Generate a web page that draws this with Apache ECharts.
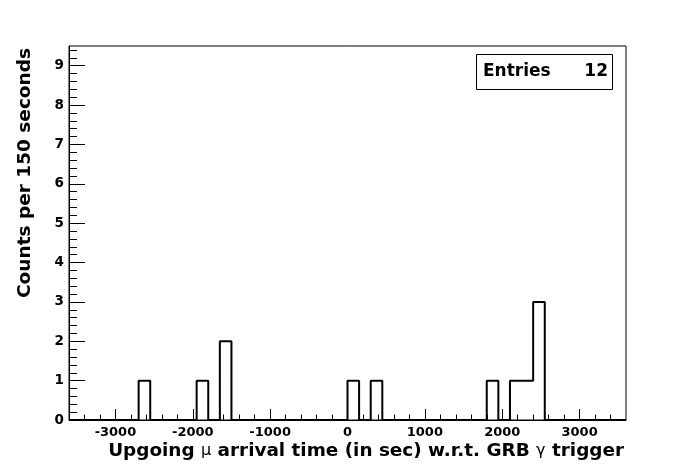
<!DOCTYPE html>
<html>
<head>
<meta charset="utf-8">
<script src="https://cdn.jsdelivr.net/npm/echarts@6/dist/echarts.min.js"></script>
<style>
html,body{margin:0;padding:0;background:#fff;}
#chart{width:696px;height:467px;}
</style>
</head>
<body>
<div id="chart"></div>
<script>
// Histogram: 48 bins of 150 s from -3600 to 3600
var xMin = -3600;
var xMax = 3600;
var binWidth = 150;
var counts = [
  0,0,0,0,0,0,1,0,0,0,0,1,0,2,0,0,0,0,0,0,0,0,0,0,
  1,0,1,0,0,0,0,0,0,0,0,0,1,0,1,1,3,0,0,0,0,0,0,0
];
var xMajorTicks = [-3000,-2000,-1000,0,1000,2000,3000];
var xMinorTicks = [-3400,-3200,-2800,-2600,-2400,-2200,-1800,-1600,-1400,-1200,-800,-600,-400,-200,200,400,600,800,1200,1400,1600,1800,2200,2400,2600,2800,3200,3400];
var yMajorTicks = [0,1,2,3,4,5,6,7,8,9];
var yMinorTicks = [0.2,0.4,0.6,0.8,1.2,1.4,1.6,1.8,2.2,2.4,2.6,2.8,3.2,3.4,3.6,3.8,4.2,4.4,4.6,4.8,5.2,5.4,5.6,5.8,6.2,6.4,6.6,6.8,7.2,7.4,7.6,7.8,8.2,8.4,8.6,8.8,9.2,9.4];
var yMax = 9.5;
var xTitleParts = ['Upgoing ', 'μ', ' arrival time (in sec) w.r.t. GRB ', 'γ', ' trigger'];
var yTitle = 'Counts per 150 seconds';
var statsLabel = 'Entries';

var entries = counts.reduce(function(a,b){return a+b;},0);
var stepData = [];
for (var i = 0; i < counts.length; i++) {
  var lo = xMin + i*binWidth;
  stepData.push([lo, counts[i]]);
  stepData.push([lo + binWidth, counts[i]]);
}

var FONT = 'DejaVu Sans';
var gridPos = {left:69, right:70, top:46, bottom:47};
function plain(v){ return String(v); }

var chart = echarts.init(document.getElementById('chart'), null, {renderer:'canvas'});
chart.setOption({
  animation:false,
  backgroundColor:'#fff',
  grid:[
    Object.assign({show:true, borderColor:'#000', borderWidth:1, backgroundColor:'transparent'}, gridPos),
    Object.assign({show:false}, gridPos)
  ],
  xAxis:[
    {type:'value', gridIndex:0, min:xMin, max:xMax,
     axisLine:{show:true, onZero:false, lineStyle:{color:'#000', width:1}},
     splitLine:{show:false},
     axisTick:{show:true, inside:true, length:11, customValues:xMajorTicks, lineStyle:{color:'#000', width:1}},
     axisLabel:{show:true, customValues:xMajorTicks, formatter:plain, color:'#000', fontFamily:FONT, fontWeight:'bold', fontSize:13, margin:6}
    },
    {type:'value', gridIndex:1, min:xMin, max:xMax,
     axisLine:{show:false, onZero:false}, splitLine:{show:false},
     axisTick:{show:true, inside:true, length:5.5, customValues:xMinorTicks, lineStyle:{color:'#000', width:1}},
     axisLabel:{show:false}
    }
  ],
  yAxis:[
    {type:'value', gridIndex:0, min:0, max:yMax,
     axisLine:{show:true, onZero:false, lineStyle:{color:'#000', width:1}},
     splitLine:{show:false},
     axisTick:{show:true, inside:true, length:16, customValues:yMajorTicks, lineStyle:{color:'#000', width:1}},
     axisLabel:{show:true, customValues:yMajorTicks, formatter:plain, color:'#000', fontFamily:FONT, fontWeight:'bold', fontSize:13.5, margin:5}
    },
    {type:'value', gridIndex:1, min:0, max:yMax,
     axisLine:{show:false, onZero:false}, splitLine:{show:false},
     axisTick:{show:true, inside:true, length:8, customValues:yMinorTicks, lineStyle:{color:'#000', width:1}},
     axisLabel:{show:false}
    }
  ],
  series:[
    {type:'line', xAxisIndex:0, yAxisIndex:0, data:stepData, symbol:'none',
     lineStyle:{color:'#000', width:2}, clip:false, silent:true}
  ],
  graphic:[
    {type:'rect', shape:{x:476.5, y:54.5, width:136, height:35},
     style:{fill:'#fff', stroke:'#000', lineWidth:1}, z:100},
    {type:'text', x:483, y:72, z:101,
     style:{text:statsLabel, fill:'#000', font:'bold 17px "DejaVu Sans"', textAlign:'left', textVerticalAlign:'middle'}},
    {type:'text', x:608, y:72, z:101,
     style:{text:String(entries), fill:'#000', font:'bold 17px "DejaVu Sans"', textAlign:'right', textVerticalAlign:'middle'}},
    {type:'text', x:624, y:451, z:101,
     style:{
       text:'{b|' + xTitleParts[0] + '}{s|' + xTitleParts[1] + '}{b|' + xTitleParts[2] + '}{s|' + xTitleParts[3] + '}{b|' + xTitleParts[4] + '}',
       align:'right', verticalAlign:'middle',
       rich:{
         b:{fontFamily:FONT, fontWeight:'bold', fontSize:18.4, fill:'#000', color:'#000'},
         s:{fontFamily:FONT, fontWeight:'normal', fontSize:16, fill:'#000', color:'#000'}
       }
     }},
    {type:'text', x:25, y:48, rotation:Math.PI/2, z:101,
     style:{text:yTitle, fill:'#000', font:'bold 18.5px "DejaVu Sans"', textAlign:'right', textVerticalAlign:'middle'}}
  ]
});
</script>
</body>
</html>
